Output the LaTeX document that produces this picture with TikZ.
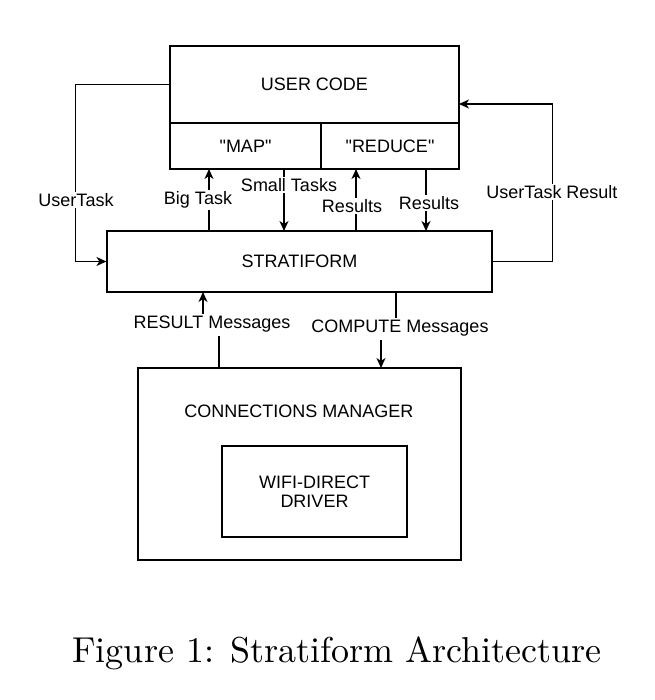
\documentclass[tikz,border=0pt]{standalone}
\usepackage{fontspec}
\newfontfamily\labelfont{Liberation Sans}
\usetikzlibrary{arrows.meta}
\begin{document}
\begin{tikzpicture}[x=1pt,y=-1pt,
  box/.style={draw,line width=1.2pt,rectangle,inner sep=0pt,font=\fontsize{18}{21}\selectfont\labelfont},
  lbl/.style={fill=white,inner sep=1.5pt,font=\fontsize{18}{21}\selectfont\labelfont},
  txt/.style={inner sep=0pt,font=\fontsize{18}{21}\selectfont\labelfont},
  conn/.style={line width=1.2pt},
  arr/.style={line width=1.2pt,-{Stealth[length=10pt,width=9pt,inset=3pt]}}]
\useasboundingbox (0,0) rectangle (654,700);
% boxes
\node[box,minimum width=289pt,minimum height=77pt] (uc) at (314.5,84.5) {USER CODE};
\node[box,minimum width=151pt,minimum height=46pt] (map) at (245.5,146) {"MAP"};
\node[box,minimum width=138pt,minimum height=46pt] (red) at (390,146) {"REDUCE"};
\node[box,minimum width=385pt,minimum height=61pt] (strat) at (299.5,261.5) {STRATIFORM};
\node[box,minimum width=323pt,minimum height=192pt] (cm) at (299.5,464) {};
\node[txt] (cmt) at (299,411) {CONNECTIONS MANAGER};
\node[box,minimum width=185pt,minimum height=91pt,align=center] (wifi) at (314.5,491.5) {WIFI-DIRECT\\[-2pt]DRIVER};
% coordinates
\coordinate (ucr) at (459,104);
\coordinate (bt1) at (209,231); \coordinate (bt2) at (209,169);
\coordinate (st1) at (284,169); \coordinate (st2) at (284,231);
\coordinate (rl1) at (356,231); \coordinate (rl2) at (356,169);
\coordinate (rr1) at (426,169); \coordinate (rr2) at (426,231);
\coordinate (rm1) at (219,368); \coordinate (rm2) at (219,336);
\coordinate (rm3) at (203,315); \coordinate (rm4) at (203,292);
\coordinate (cp1) at (396,292); \coordinate (cp2) at (396,318);
\coordinate (cp3) at (381,340); \coordinate (cp4) at (381,368);
% connectors
\draw[arr] (uc.west) -- ++(-94,0) |- (strat.west);
\draw[arr] (strat.east) -- ++(60,0) |- (ucr);
\draw[arr] (bt1) -- (bt2);
\draw[arr] (st1) -- (st2);
\draw[arr] (rl1) -- (rl2);
\draw[arr] (rr1) -- (rr2);
\draw[conn] (rm1) -- (rm2);
\draw[arr] (rm3) -- (rm4);
\draw[conn] (cp1) -- (cp2);
\draw[arr] (cp3) -- (cp4);
% labels
\node[lbl] (l1) at (76,200) {UserTask};
\node[lbl] (l2) at (552,192) {UserTask Result};
\node[lbl] (l3) at (198,200) {Big Task};
\node[lbl] (l4) at (289,185) {Small Tasks};
\node[lbl] (l5) at (352,206) {Results};
\node[lbl] (l6) at (429,203) {Results};
\node[lbl] (l7) at (212,324) {RESULT Messages};
\node[lbl] (l8) at (400,328) {COMPUTE Messages};
% caption
\node[scale=3.6,inner sep=0pt,anchor=base] (cap) at (337,662) {Figure 1: Stratiform Architecture};
\end{tikzpicture}
\end{document}
